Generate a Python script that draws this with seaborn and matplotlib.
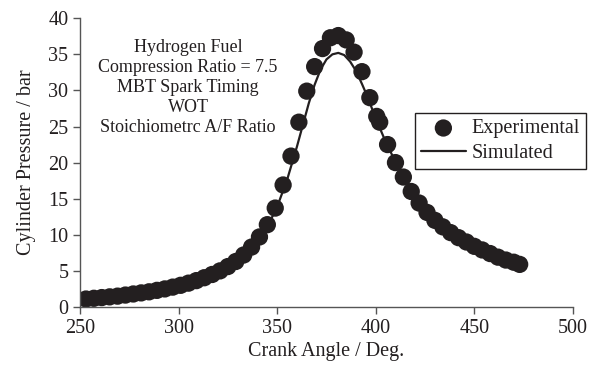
import numpy as np
import pandas as pd
import matplotlib
matplotlib.use("Agg")
import matplotlib.pyplot as plt
import seaborn as sns

sns.set_theme(style="ticks")
plt.rcParams['font.family'] = ['Liberation Serif', 'DejaVu Serif']
plt.rcParams['mathtext.fontset'] = 'stix'

# Experimental pressure trace (crank angle in deg, pressure in bar)
exp_angle = [253, 257, 261, 265, 269, 273, 277, 281, 285, 289, 293, 297,
             301, 305, 309, 313, 317, 321, 325, 329, 333, 337, 341, 345,
             349, 353, 357, 361, 365, 369, 373, 377, 381, 385, 389, 393,
             397, 400.5, 402, 406, 410, 414, 418, 422, 426, 430, 434, 438,
             442, 446, 450, 454, 458, 462, 466, 470, 473]
exp_pressure = [1.1, 1.2, 1.3, 1.4, 1.5, 1.65, 1.8, 1.95, 2.1, 2.3, 2.5, 2.75,
                3.0, 3.3, 3.65, 4.05, 4.5, 5.0, 5.6, 6.3, 7.2, 8.3, 9.7, 11.4,
                13.7, 16.9, 20.9, 25.6, 29.9, 33.3, 35.8, 37.3, 37.6, 37.0, 35.3, 32.6,
                29.0, 26.4, 25.6, 22.5, 20.0, 18.0, 16.0, 14.4, 13.1, 12.0, 11.1, 10.3,
                9.6, 9.0, 8.4, 7.9, 7.4, 6.9, 6.5, 6.2, 5.9]

# Simulated trace
sim_angle = [253, 260, 270, 280, 290, 300, 310, 320, 330, 335, 340, 345,
             350, 355, 360, 363, 366, 369, 372, 375, 378, 381, 384, 387,
             390, 393, 396, 400, 405, 410, 415, 420, 425, 430, 435, 440,
             445, 450, 455, 460, 465, 470, 473]
sim_pressure = [1.05, 1.25, 1.55, 1.9, 2.35, 2.95, 3.75, 4.85, 6.45, 7.6, 9.1, 11.1,
                13.9, 17.6, 22.2, 25.2, 28.2, 30.8, 32.9, 34.3, 35.0, 35.2, 34.9, 34.0,
                32.7, 30.9, 29.0, 26.1, 22.9, 20.1, 17.6, 15.5, 13.6, 12.1, 10.8, 9.8,
                8.9, 8.2, 7.6, 7.0, 6.5, 6.1, 5.9]

exp_df = pd.DataFrame({'angle': exp_angle, 'pressure': exp_pressure})
sim_df = pd.DataFrame({'angle': sim_angle, 'pressure': sim_pressure})

ink = '#231f20'
fig = plt.figure(figsize=(6.16, 3.65), dpi=100)
ax = fig.add_axes([0.13, 0.159, 0.8, 0.791])

sns.scatterplot(data=exp_df, x='angle', y='pressure', ax=ax, color=ink,
                s=155, edgecolor='none', label='Experimental', zorder=2)
sns.lineplot(data=sim_df, x='angle', y='pressure', ax=ax, color=ink,
             linewidth=1.6, label='Simulated', zorder=3)

ax.set_xlim(250, 500)
ax.set_ylim(0, 40)
ax.set_xticks([250, 300, 350, 400, 450, 500])
ax.set_yticks(range(0, 41, 5))
ax.set_xlabel('Crank Angle / Deg.', fontsize=14.5, color=ink, labelpad=3)
ax.set_ylabel('Cylinder Pressure / bar', fontsize=14.5, color=ink, labelpad=9)
ax.tick_params(axis='both', labelsize=14.5, colors='#555555', labelcolor=ink,
               length=5, width=1, direction='out')
sns.despine(ax=ax)
for side in ['left', 'bottom']:
    ax.spines[side].set_color('#555555')
    ax.spines[side].set_linewidth(1)

ax.text(304.8, 30.4,
        'Hydrogen Fuel\nCompression Ratio = 7.5\nMBT Spark Timing\nWOT\nStoichiometrc A/F Ratio',
        ha='center', va='center', fontsize=13, color=ink, linespacing=1.22)

leg = ax.legend(loc='upper left', bbox_to_anchor=(0.674, 0.69),
                bbox_transform=fig.transFigure, fontsize=14.5, frameon=True,
                fancybox=False, edgecolor=ink, handlelength=2.2,
                handletextpad=0.3, borderpad=0.3, labelspacing=0.3,
                borderaxespad=0)
leg.get_frame().set_linewidth(1)
leg.get_frame().set_alpha(1)
for t in leg.get_texts():
    t.set_color(ink)

fig.savefig('out.png', dpi=100)
